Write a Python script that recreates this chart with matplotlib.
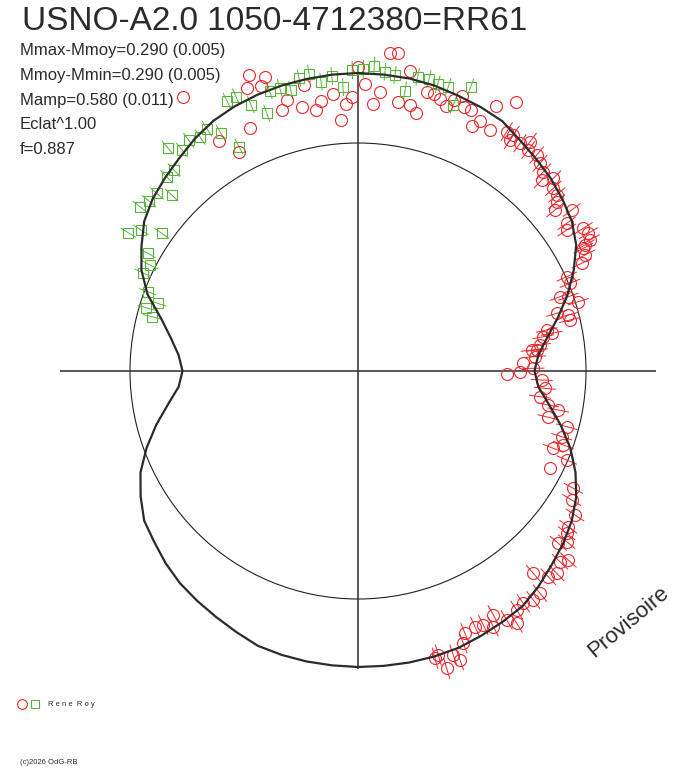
import numpy as np
import matplotlib
matplotlib.use("Agg")
import matplotlib.pyplot as plt
from matplotlib.patches import Circle
from matplotlib.collections import LineCollection

plt.rcParams['font.family'] = ['Liberation Sans', 'DejaVu Sans']

# model light curve, phase angle (deg, clockwise from top) and radius
curve_ang = np.arange(0, 360, 5)
curve_r = [298, 297.5, 297, 295.5, 293, 291, 288.5, 282, 277, 272.5,
           267, 261, 252, 238, 223, 207, 192, 181, 176.5, 181,
           194, 210, 226, 240, 252, 261, 268, 274, 281, 287,
           289.5, 292, 294.5, 295.5, 296, 296, 296, 295.5, 295, 294,
           292.5, 288, 284, 280.5, 277, 272, 266, 261, 251, 240,
           225, 209, 193, 180, 175.5, 180, 190, 204, 224, 239,
           250, 261, 268, 273, 278, 284, 289, 292, 294, 295.5,
           296.5, 297.5]

# red observations without error bars (x, y offsets from centre)
red_x = [-175, -109, -93, -111.3, -97, -108, -71.5, -75.7, -56, -42,
         -37.3, -25, -53.7, -12, -16.8, -5.7, -139, -119, 0.3, 7.3,
         22, 14.5, 32, 40.3, 40.3, 52, 52, 57.5, 68.7, 76,
         82.3, 88, 95.7, 106, 113, 122, 113.7, 132, 138, 158,
         104, 148.7, 162, 165.3, 192]
red_y = [274, 296.5, 294, 282.7, 284.7, 242.7, 271.3, 261, 264.5, 261.3,
         270, 276.8, 286, 266.8, 250.7, 274.5, 230, 219, 303.7, 287.2,
         279, 266.8, 318.5, 317.7, 269.3, 299.8, 266.3, 257.7, 278.8, 277.2,
         271.7, 265, 271.3, 264.3, 261, 250, 245, 241.3, 265.3, 269.3,
         274.8, -3.3, -0.7, 7.7, -97.3]

# red observations with error bars
rede_x = [148.7, 155.3, 152, 162, 172, 170.3, 178.7, 182, 185.3, 183.7,
          195.3, 195.3, 198.7, 198.7, 197, 213.7, 208.7, 208.7, 225.3, 230.3,
          232, 227, 225.3, 227, 223.7, 208.7, 212, 202, 210.3, 220.3,
          198.7, 210.3, 212, 188.7, 193.7, 185.3, 182, 178.7, 173.7, 177,
          175.3, 183.7, 187, 182, 190.3, 200.3, 190.3, 208.7, 203.7, 195.3,
          205.3, 208.7, 215.3, 213.7, 217, 210.3, 208.7, 200.3, 208.7, 210.3,
          202, 198.7, 175.3, 190.3, 182, 175.3, 165.3, 158.7, 158.7, 148.7,
          135.3, 135.3, 125.3, 117, 107, 105.3, 95.3, 80.3, 88.7, 102,
          77]
rede_y = [239.3, 236, 231, 227.7, 229.3, 221, 216, 207.7, 199.3, 191,
          192.7, 182.7, 176, 169.3, 161, 161, 147.7, 141, 142.7, 137.7,
          131, 126, 122.7, 116, 107.7, 94.3, 87.7, 74.3, 74.3, 69.3,
          57.7, 56, 51, 41, 37.7, 34.3, 26, 21, 21, 14.3,
          2.7, -9, -17.3, -25.7, -34, -39, -46.3, -55.7, -65.7, -77.3,
          -74, -89, -117.3, -129, -144, -155.7, -162.3, -172.3, -170.7, -189,
          -190.7, -202.3, -202.3, -205.7, -222.3, -229, -232.3, -239, -252.3, -249,
          -244, -255.7, -254, -255.7, -262.3, -272.3, -284, -284, -297.3, -289,
          -287.3]

# green observations (with error bars)
green_x = [-229.7, -217, -196.3, -218, -209, -201.3, -186.3, -191.3, -184, -190.5,
           -176, -169.3, -158, -151, -137.3, -131, -122, -107.2, -119, -91.3,
           -88.5, -78.3, -67.3, -59, -49, -37, -26.2, -15, -5.7, 5.3,
           16.3, 27, 37, 47, 59.7, 71, 79.7, 90.3, 95.3, 112.7,
           -210.3, -208, -215.3, -210.3, -200.3, -212, -206.3]
green_y = [138.3, 141, 137.7, 164.3, 170, 177.7, 176, 194.3, 201, 223.5,
           221, 230.7, 234, 242.2, 238, 270, 274.3, 266.5, 224.3, 258,
           280.5, 283.2, 281, 292.7, 297.5, 289.5, 295, 284, 301, 302,
           305.3, 299.3, 296, 280.3, 294.3, 292, 286.7, 284.3, 266, 284.3,
           117.7, 106, 98.3, 79.3, 67.7, 63.3, 54.3]

red_err = 11
green_err = 9
r_mean = 228
r_axis = 298

stats = ["Mmax-Mmoy=0.290 (0.005)", "Mmoy-Mmin=0.290 (0.005)",
         "Mamp=0.580 (0.011)", "Eclat^1.00", "f=0.887"]

RED = '#e8262c'
GREEN = '#5ab43c'
DARK = '#2b2b2b'


def radial_bars(x, y, e):
    x = np.asarray(x, float)
    y = np.asarray(y, float)
    r = np.hypot(x, y)
    ux, uy = x / r, y / r
    return [[(a - e * c, b - e * d), (a + e * c, b + e * d)]
            for a, b, c, d in zip(x, y, ux, uy)]


fig = plt.figure(figsize=(6.88, 7.68), dpi=100)
ax = fig.add_axes([0, 0, 1, 1])
ax.set_xlim(-358, 330)
ax.set_ylim(-397, 371)
ax.axis('off')

ax.add_patch(Circle((0, 0), r_mean, fill=False, lw=0.8, color='#222222'))
ax.hlines(0, -r_axis, r_axis, color=DARK, lw=1.1)
ax.vlines(0, -r_axis, r_axis, color=DARK, lw=1.1)

ax.add_collection(LineCollection(radial_bars(green_x, green_y, green_err),
                                 colors=GREEN, lw=0.7))
ax.add_collection(LineCollection(radial_bars(rede_x, rede_y, red_err),
                                 colors=RED, lw=0.7))

ax.plot(red_x, red_y, 'o', ms=8.6, mfc='none', mec=RED, mew=0.8)
ax.plot(rede_x, rede_y, 'o', ms=8.6, mfc='none', mec=RED, mew=0.8)
ax.plot(green_x, green_y, 's', ms=7.2, mfc='none', mec=GREEN, mew=0.8)

ang = np.radians(np.append(curve_ang, 360))
rr = np.append(curve_r, curve_r[0])
ax.plot(rr * np.sin(ang), rr * np.cos(ang), color=DARK, lw=1.6, zorder=5)

fig.text(22 / 688, 1 - 22 / 768, "USNO-A2.0 1050-4712380=RR61", fontsize=24,
         color=DARK, va='center', ha='left')
for i, s in enumerate(stats):
    fig.text(20 / 688, 1 - (51 + i * 24.6) / 768, s, fontsize=12,
             color=DARK, va='center', ha='left')

fig.text(628 / 688, 1 - 622 / 768, "Provisoire", fontsize=16, color=DARK,
         rotation=40, ha='center', va='center', rotation_mode='anchor')

# legend
lax = fig.add_axes([0, 0, 1, 1], facecolor='none')
lax.set_xlim(0, 688)
lax.set_ylim(768, 0)
lax.axis('off')
lax.plot([22], [704], 'o', ms=7, mfc='none', mec=RED, mew=0.8)
lax.plot([35], [704], 's', ms=5.5, mfc='none', mec=GREEN, mew=0.8)
fig.text(48 / 688, 1 - 705 / 768, "R e n e  R o y", fontsize=5.5, color=DARK,
         va='center', ha='left')
fig.text(20 / 688, 1 - 763 / 768, "(c)2026 OdG-RB", fontsize=5.5, color=DARK,
         va='center', ha='left')

fig.savefig("out.png", dpi=100)
